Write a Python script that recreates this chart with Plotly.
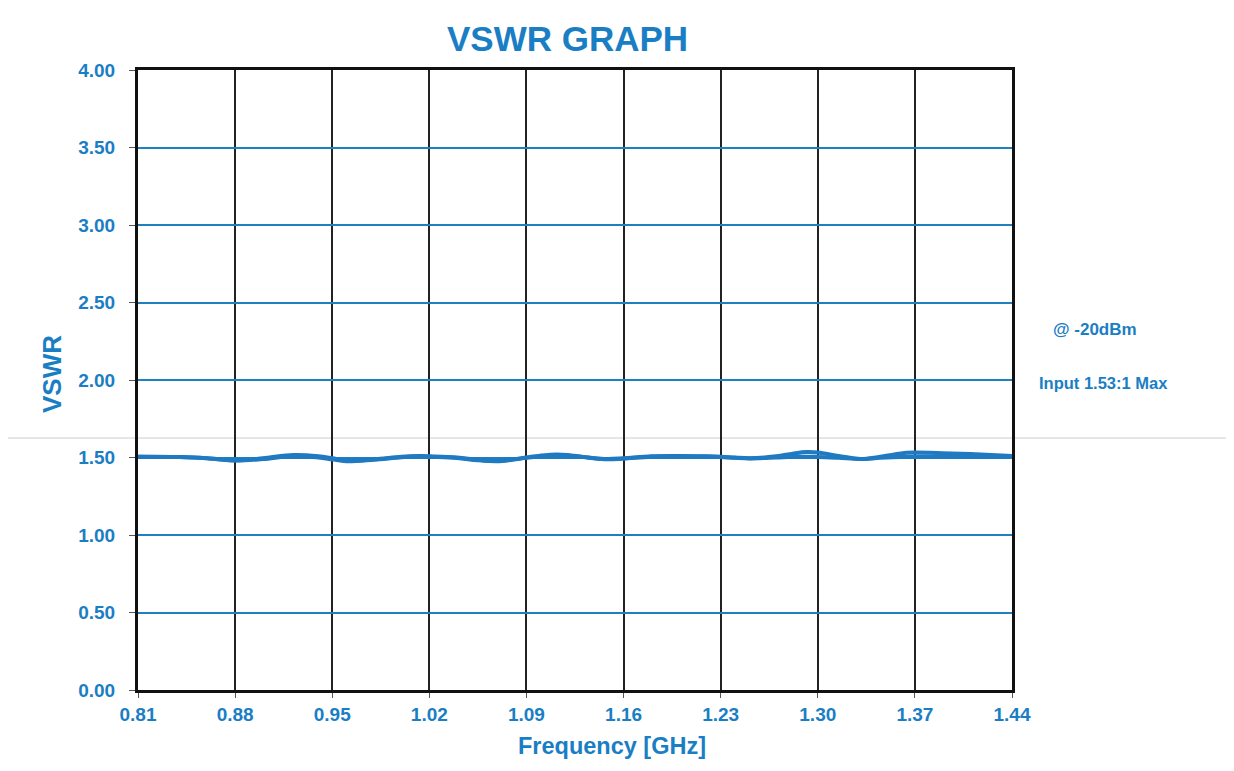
import plotly.graph_objects as go

# Data
freq_ghz = [0.81, 0.84, 0.86, 0.88, 0.90, 0.922, 0.94, 0.95, 0.96, 0.98, 1.00, 1.013, 1.02, 1.04, 1.055, 1.069,
            1.08, 1.09, 1.10, 1.112, 1.121, 1.135, 1.148, 1.16, 1.18, 1.20, 1.217, 1.23, 1.24, 1.251, 1.27,
            1.282, 1.292, 1.30, 1.315, 1.331, 1.345, 1.364, 1.37, 1.39, 1.41, 1.44]
vswr_sweep1 = [1.505, 1.503, 1.495, 1.482, 1.495, 1.516, 1.508, 1.495, 1.480, 1.488, 1.505, 1.510, 1.508, 1.500, 1.485, 1.478,
               1.488, 1.500, 1.512, 1.520, 1.515, 1.500, 1.490, 1.495, 1.508, 1.510, 1.508, 1.505, 1.500, 1.495, 1.508,
               1.525, 1.535, 1.532, 1.510, 1.490, 1.505, 1.530, 1.532, 1.528, 1.522, 1.510]
vswr_sweep2 = [1.505, 1.503, 1.495, 1.480, 1.490, 1.510, 1.500, 1.488, 1.476, 1.486, 1.502, 1.508, 1.505, 1.497, 1.482, 1.476,
               1.486, 1.498, 1.508, 1.514, 1.512, 1.498, 1.488, 1.493, 1.505, 1.508, 1.506, 1.503, 1.498, 1.494, 1.500,
               1.505, 1.505, 1.504, 1.498, 1.490, 1.498, 1.505, 1.506, 1.507, 1.508, 1.508]

x_ticks = [0.81, 0.88, 0.95, 1.02, 1.09, 1.16, 1.23, 1.30, 1.37, 1.44]
y_ticks = [0.0, 0.5, 1.0, 1.5, 2.0, 2.5, 3.0, 3.5, 4.0]
title_text = "VSWR GRAPH"
x_title = "Frequency [GHz]"
y_title = "VSWR"
notes = ["@ -20dBm", "Input 1.53:1 Max"]

BLUE = "#1a7ec4"
LINE = "#1f7ac2"
FONT = "Liberation Sans, Arial, sans-serif"

# page offset (body margin) compensation
OFF = 8
W, H = 1234 - 2 * OFF, 771 - 2 * OFF
L, R, T, B = 138 - OFF, W - (1012 - OFF), 70 - OFF, H - (690 - OFF)
pw, ph = W - L - R, H - T - B


def px(xp):
    return (xp - OFF - L) / pw


def py(yp):
    return (H - B - (yp - OFF)) / ph


fig = go.Figure()
for ys in (vswr_sweep1, vswr_sweep2):
    fig.add_trace(go.Scatter(x=freq_ghz, y=ys, mode="lines", line=dict(color=LINE, width=4, shape="spline"),
                             showlegend=False, hoverinfo="skip"))

fig.update_layout(
    width=W, height=H,
    margin=dict(l=L, r=R, t=T, b=B, pad=0),
    paper_bgcolor="white", plot_bgcolor="white",
    font=dict(family=FONT, color=BLUE),
)
fig.update_xaxes(
    range=[0.81, 1.44], tickvals=x_ticks, ticktext=[f"<b>{v:.2f}</b>" for v in x_ticks],
    tickfont=dict(family=FONT, size=19, color=BLUE),
    showgrid=True, gridcolor="#222222", gridwidth=2,
    showline=True, linecolor="#111111", linewidth=3, mirror=True,
    ticks="outside", ticklen=5, tickcolor="#555555", tickwidth=1,
    zeroline=False,
)
fig.update_yaxes(
    range=[0, 4], tickvals=y_ticks, ticktext=[f"<b>{v:.2f}</b>" for v in y_ticks],
    tickfont=dict(family=FONT, size=19, color=BLUE),
    showgrid=True, gridcolor="#1f7fc0", gridwidth=2,
    showline=True, linecolor="#111111", linewidth=3, mirror=True,
    ticks="outside", ticklen=6, tickcolor="#555555", tickwidth=1,
    ticklabelstandoff=10,
    zeroline=False,
)

ann = dict(xref="paper", yref="paper", showarrow=False, xanchor="center", yanchor="middle")
fig.add_annotation(text=f"<b>{title_text}</b>", x=px(567), y=py(38), font=dict(family=FONT, size=35, color=BLUE), **ann)
fig.add_annotation(text=f"<b>{x_title}</b>", x=px(612), y=py(746), font=dict(family=FONT, size=23.5, color=BLUE), **ann)
fig.add_annotation(text=f"<b>{y_title}</b>", x=px(52), y=py(374), textangle=-90,
                   font=dict(family=FONT, size=26, color=BLUE), **ann)
fig.add_annotation(text=f"<b>{notes[0]}</b>", x=px(1095), y=py(329), font=dict(family=FONT, size=17, color=BLUE), **ann)
fig.add_annotation(text=f"<b>{notes[1]}</b>", x=px(1103), y=py(383), font=dict(family=FONT, size=16.5, color=BLUE), **ann)

# faint scan line across the page
fig.add_shape(type="line", xref="paper", yref="paper", x0=px(0), x1=px(1234),
              y0=py(438), y1=py(438), line=dict(color="#cccccc", width=1), layer="below")

fig.write_html("out.html")
